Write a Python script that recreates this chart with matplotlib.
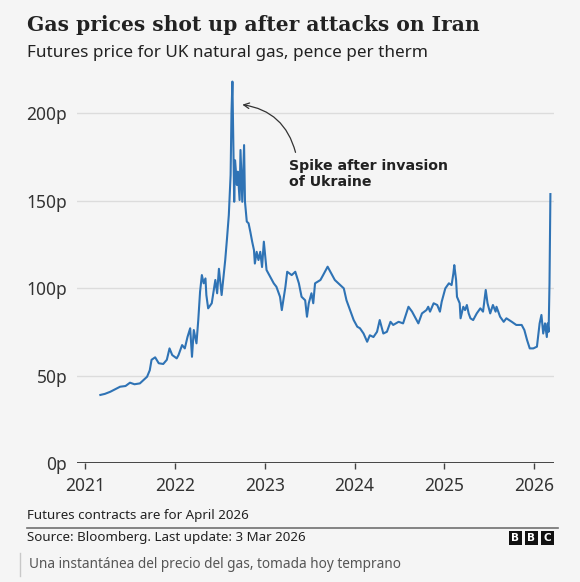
import matplotlib.pyplot as plt
from matplotlib.patches import Rectangle
from matplotlib.lines import Line2D

# values (decimal year, pence per therm)
years = [2021.17, 2021.22, 2021.28, 2021.33, 2021.39, 2021.45, 2021.50, 2021.55, 2021.61, 2021.65,
         2021.69, 2021.72, 2021.74, 2021.78, 2021.82, 2021.87, 2021.91, 2021.94, 2021.97, 2022.02,
         2022.04, 2022.08, 2022.11, 2022.14, 2022.17, 2022.19, 2022.21, 2022.24, 2022.26, 2022.28,
         2022.30, 2022.32, 2022.34, 2022.35, 2022.37, 2022.41, 2022.45, 2022.47, 2022.49, 2022.52,
         2022.56, 2022.58, 2022.60, 2022.62, 2022.63, 2022.64, 2022.65, 2022.66, 2022.67, 2022.69,
         2022.70, 2022.72, 2022.73, 2022.75, 2022.77, 2022.78, 2022.80, 2022.82, 2022.84, 2022.86,
         2022.88, 2022.89, 2022.91, 2022.93, 2022.95, 2022.97, 2022.99, 2023.02, 2023.04, 2023.08,
         2023.10, 2023.13, 2023.17, 2023.19, 2023.23, 2023.25, 2023.30, 2023.34, 2023.38, 2023.41,
         2023.45, 2023.47, 2023.49, 2023.52, 2023.54, 2023.56, 2023.62, 2023.65, 2023.70, 2023.75,
         2023.78, 2023.82, 2023.88, 2023.91, 2023.95, 2023.99, 2024.03, 2024.06, 2024.10, 2024.14,
         2024.17, 2024.21, 2024.25, 2024.28, 2024.32, 2024.36, 2024.40, 2024.43, 2024.49, 2024.54,
         2024.60, 2024.64, 2024.67, 2024.71, 2024.75, 2024.80, 2024.82, 2024.84, 2024.88, 2024.92,
         2024.95, 2024.97, 2025.01, 2025.05, 2025.08, 2025.10, 2025.11, 2025.13, 2025.14, 2025.17,
         2025.18, 2025.21, 2025.23, 2025.25, 2025.27, 2025.29, 2025.32, 2025.36, 2025.40, 2025.43,
         2025.46, 2025.48, 2025.51, 2025.54, 2025.57, 2025.58, 2025.62, 2025.66, 2025.69, 2025.75,
         2025.80, 2025.86, 2025.89, 2025.92, 2025.95, 2025.99, 2026.03, 2026.06, 2026.08, 2026.10,
         2026.12, 2026.14, 2026.15, 2026.16, 2026.17, 2026.18]
price = [38.9, 39.5, 40.7, 42.0, 43.6, 44.0, 45.9, 45.0, 45.5, 47.4,
         49.3, 53.0, 59.0, 60.4, 57.0, 56.6, 59.0, 65.5, 61.7, 59.8,
         61.7, 67.4, 65.5, 72.0, 77.0, 60.7, 76.0, 68.4, 81.7, 97.9,
         107.4, 102.7, 105.5, 96.0, 88.4, 91.3, 104.6, 97.0, 111.0, 96.0,
         116.0, 128.4, 141.7, 164.6, 200.7, 218.0, 183.6, 149.3, 173.0, 158.9,
         166.5, 150.3, 178.9, 149.3, 181.7, 149.3, 138.0, 137.0, 132.0, 126.5,
         121.7, 114.0, 120.7, 116.0, 120.7, 112.0, 126.5, 110.3, 108.4, 104.6,
         102.7, 100.7, 95.0, 87.4, 100.7, 109.3, 107.4, 109.3, 102.7, 95.0,
         93.0, 83.6, 91.3, 97.0, 91.3, 102.7, 104.6, 107.4, 112.2, 107.4,
         104.6, 102.7, 99.8, 93.0, 87.4, 81.7, 77.9, 77.0, 74.0, 69.3,
         73.0, 72.0, 75.0, 81.7, 74.0, 75.0, 80.7, 78.9, 80.7, 79.8,
         89.3, 86.5, 83.6, 79.8, 85.5, 87.4, 89.3, 86.5, 91.3, 90.3,
         86.5, 92.2, 99.8, 102.7, 101.7, 108.4, 113.1, 104.6, 95.0, 91.3,
         82.7, 89.3, 87.4, 90.3, 85.5, 82.7, 81.7, 85.5, 88.4, 86.5,
         98.9, 91.3, 85.5, 90.3, 86.5, 89.3, 83.6, 80.7, 82.7, 80.7,
         78.9, 78.9, 76.0, 70.3, 65.5, 65.5, 66.5, 79.8, 84.6, 74.0,
         79.8, 72.0, 79.8, 75.0, 102.7, 153.7]

year_ticks = [2021, 2022, 2023, 2024, 2025, 2026]
price_ticks = [0, 50, 100, 150, 200]

BG = '#f5f5f5'
DARK = '#404040'
SANS = ['Noto Sans', 'DejaVu Sans']

fig = plt.figure(figsize=(5.8, 5.82), dpi=100, facecolor=BG)
ax = fig.add_axes([77 / 580, 1 - 463 / 582, 477 / 580, 383 / 582])
ax.set_facecolor(BG)

ax.plot(years, price, color='#2f73b5', lw=1.5, solid_joinstyle='round', zorder=3)

ax.set_xlim(2020.91, 2026.22)
ax.set_ylim(0, 218.9)
ax.set_xticks(year_ticks)
ax.set_xticklabels([str(y) for y in year_ticks], fontsize=12.5, color='#333333', family=SANS)
ax.set_yticks(price_ticks)
ax.set_yticklabels([f'{p}p' for p in price_ticks], fontsize=12.5, color='#333333', family=SANS)
ax.tick_params(axis='x', length=4, width=1, color=DARK, pad=6)
ax.tick_params(axis='y', length=0, pad=7)
for p in price_ticks[1:]:
    ax.axhline(p, color='#dcdcdc', lw=1, zorder=1)
ax.axhline(0, color='#333333', lw=2, zorder=4)
for s in ax.spines.values():
    s.set_visible(False)

ax.annotate('', xy=(2022.72, 205), xytext=(2023.35, 176),
            arrowprops=dict(arrowstyle='->', color='#333333', lw=0.9,
                            connectionstyle='arc3,rad=0.35'))
ax.text(2023.27, 165, 'Spike after invasion\nof Ukraine', fontsize=10.2, fontweight='bold',
        color='#222222', family='DejaVu Sans', ha='left', va='center', linespacing=1.2)

fig.text(27 / 580, 1 - 25 / 582, 'Gas prices shot up after attacks on Iran', fontsize=14.6,
         fontweight='bold', family='DejaVu Serif', color='#222222', va='center', ha='left')
fig.text(27 / 580, 1 - 53 / 582, 'Futures price for UK natural gas, pence per therm',
         fontsize=12.3, family=SANS, color='#222222', va='center', ha='left')

fig.text(27 / 580, 1 - 516 / 582, 'Futures contracts are for April 2026', fontsize=9.6,
         family=SANS, color='#222222', va='center', ha='left')
fig.add_artist(Line2D([27 / 580, 558 / 580], [1 - 528 / 582, 1 - 528 / 582],
                      color='#707070', lw=1.2, transform=fig.transFigure))
fig.text(27 / 580, 1 - 538 / 582, 'Source: Bloomberg. Last update: 3 Mar 2026', fontsize=9.6,
         family=SANS, color='#222222', va='center', ha='left')

# BBC blocks
for i, letter in enumerate('BBC'):
    x0 = 509 + i * 16
    fig.add_artist(Rectangle((x0 / 580, 1 - 545 / 582), 13 / 580, 14 / 582,
                             transform=fig.transFigure, facecolor='#111111', edgecolor='none'))
    fig.text((x0 + 6.5) / 580, 1 - 538 / 582, letter, fontsize=7.5, fontweight='bold',
             color='white', family='DejaVu Sans', ha='center', va='center')

fig.add_artist(Line2D([20 / 580, 20 / 580], [1 - 553 / 582, 1 - 576 / 582],
                      color='#c8c8c8', lw=1, transform=fig.transFigure))
fig.text(29 / 580, 1 - 565 / 582, 'Una instantánea del precio del gas, tomada hoy temprano',
         fontsize=9.8, family=SANS, color='#555555', va='center', ha='left')

fig.savefig('out.png', dpi=100, facecolor=BG)
